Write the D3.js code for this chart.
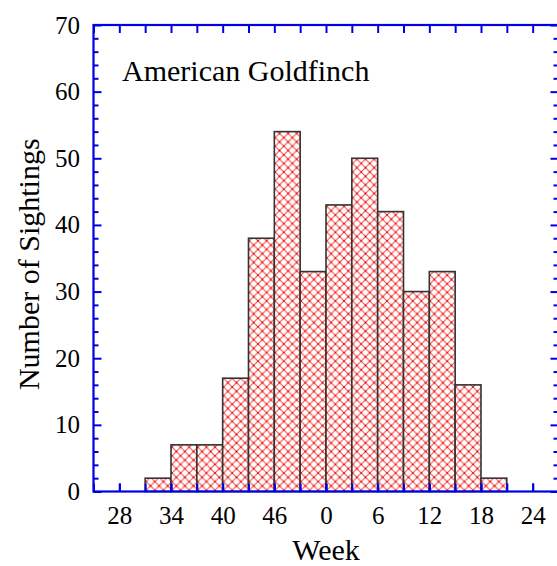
<!DOCTYPE html>
<html>
<head>
<meta charset="utf-8">
<script src="https://cdn.jsdelivr.net/npm/d3@7"></script>
<style>
  html, body { margin: 0; padding: 0; background: #fff; }
  svg { display: block; }
</style>
</head>
<body>
<svg id="chart" width="557" height="566"></svg>
<script>
// ---- data ----
const binStartWeeks = [31, 34, 37, 40, 43, 46, 49, 52, 55, 58, 61, 64, 67, 70];
const sightings     = [2, 7, 7, 17, 38, 54, 33, 43, 50, 42, 30, 33, 16, 2];
const binWidthWeeks = 3;
const xTickWeeks    = [28, 34, 40, 46, 52, 58, 64, 70, 76];
const xTickLabels   = ["28", "34", "40", "46", "0", "6", "12", "18", "24"];
const xMinorWeeks   = [25, 28, 31, 34, 37, 40, 43, 46, 49, 52, 55, 58, 61, 64, 67, 70, 73, 76, 79];
const yTickValues   = [0, 10, 20, 30, 40, 50, 60, 70];
const yMinorValues  = [2,4,6,8,12,14,16,18,22,24,26,28,32,34,36,38,42,44,46,48,52,54,56,58,62,64,66,68];
const chartTitle = "American Goldfinch";
const xTitle = "Week";
const yTitle = "Number of Sightings";

// ---- layout ----
const FONT = '"Liberation Serif", "DejaVu Serif", serif';
const svg = d3.select("#chart");
const pLeft = 93.5, pRight = 558.5, pTop = 25, pBottom = 491.5;
const axisColor = "#0000e6";

const x = d3.scaleLinear().domain([25, 79]).range([pLeft, pRight]);
const y = d3.scaleLinear().domain([0, 70]).range([pBottom, pTop]);

// pattern
const defs = svg.append("defs");
const P = 8.6;
const pat = defs.append("pattern")
  .attr("id", "hatch").attr("patternUnits", "userSpaceOnUse")
  .attr("width", P).attr("height", P);
pat.append("rect").attr("width", P).attr("height", P).attr("fill", "#fff");
pat.append("path").attr("d", `M0,0L${P},${P}M0,${P}L${P},0`)
  .attr("stroke", "#f03030").attr("stroke-width", 1.1).attr("fill", "none").attr("opacity", 0.85);
[[P/2, P/2], [0, 0], [P, 0], [0, P], [P, P]].forEach(([cx, cy]) =>
  pat.append("circle").attr("cx", cx).attr("cy", cy).attr("r", 0.9).attr("fill", "#e00"));

// bars
svg.append("g").selectAll("rect")
  .data(binStartWeeks.map((w, i) => ({w, v: sightings[i]})))
  .join("rect")
  .attr("x", d => x(d.w))
  .attr("y", d => y(d.v))
  .attr("width", d => x(d.w + binWidthWeeks) - x(d.w))
  .attr("height", d => y(0) - y(d.v))
  .attr("fill", "url(#hatch)")
  .attr("stroke", "#333")
  .attr("stroke-width", 1.6);

function styleAxis(g) {
  g.select(".domain").remove();
  g.selectAll(".tick line").attr("stroke", axisColor).attr("stroke-width", 2);
  g.selectAll(".tick text").attr("fill", "#000")
    .style("font-family", FONT).style("font-size", "25px");
}

// bottom axis
svg.append("g").attr("transform", `translate(0,${pBottom})`)
  .call(d3.axisBottom(x).tickValues(xMinorWeeks).tickSize(-8).tickFormat(""))
  .call(styleAxis);
svg.append("g").attr("transform", `translate(0,${pBottom})`)
  .call(d3.axisBottom(x).tickValues(xTickWeeks).tickSize(-8).tickPadding(14.75)
        .tickFormat((d, i) => xTickLabels[i]))
  .call(styleAxis);

// top axis
svg.append("g").attr("transform", `translate(0,${pTop})`)
  .call(d3.axisTop(x).tickValues(xMinorWeeks).tickSize(-8).tickFormat(""))
  .call(styleAxis);

// left axis
svg.append("g").attr("transform", `translate(${pLeft},0)`)
  .call(d3.axisLeft(y).tickValues(yMinorValues).tickSize(-5).tickFormat(""))
  .call(styleAxis);
svg.append("g").attr("transform", `translate(${pLeft},0)`)
  .call(d3.axisLeft(y).tickValues(yTickValues).tickSize(-8).tickPadding(13.5).tickFormat(d3.format("d")))
  .call(styleAxis);

// right axis
svg.append("g").attr("transform", `translate(${pRight},0)`)
  .call(d3.axisRight(y).tickValues(yMinorValues).tickSize(-5).tickFormat(""))
  .call(styleAxis);
svg.append("g").attr("transform", `translate(${pRight},0)`)
  .call(d3.axisRight(y).tickValues(yTickValues).tickSize(-8).tickFormat(""))
  .call(styleAxis);

// frame
svg.append("rect")
  .attr("x", pLeft).attr("y", pTop)
  .attr("width", pRight - pLeft).attr("height", pBottom - pTop)
  .attr("fill", "none").attr("stroke", axisColor).attr("stroke-width", 2.2);

// texts
function txt(sel) { return sel.style("font-family", FONT).style("font-size", "30px").attr("fill", "#000"); }
svg.append("text").attr("x", 122).attr("y", 81).text(chartTitle).call(txt);
svg.append("text").attr("x", 326).attr("y", 560)
  .attr("text-anchor", "middle").text(xTitle).call(txt);
svg.append("text").attr("transform", `translate(39,${(pTop + pBottom) / 2 + 6}) rotate(-90)`)
  .attr("text-anchor", "middle").text(yTitle).call(txt);
</script>
</body>
</html>
